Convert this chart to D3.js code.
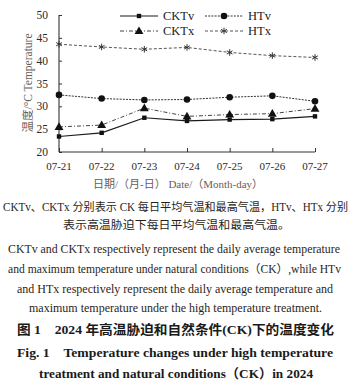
<!DOCTYPE html>
<html><head><meta charset="utf-8">
<script src="https://cdn.jsdelivr.net/npm/d3@7/dist/d3.min.js"></script>
<style>body{margin:0;background:#fff}svg{display:block}</style>
</head><body>
<svg id="c" width="361" height="386"></svg>
<script>
const dates = ["07-21","07-22","07-23","07-24","07-25","07-26","07-27"];
const CKTv = [23.4,24.2,27.5,26.8,27.1,27.2,27.8];
const HTv  = [32.5,31.7,31.4,31.5,32.0,32.3,31.1];
const CKTx = [25.5,25.9,29.6,27.8,28.2,28.4,29.5];
const HTx  = [43.6,43.0,42.5,42.9,41.8,41.1,40.7];
const yTicks = [20,25,30,35,40,45,50];
const seriesNames = ["CKTv","HTv","CKTx","HTx"];
const captions = [
 "CKTv、CKTx 分别表示 CK 每日平均气温和最高气温，HTv、HTx 分别",
 "表示高温胁迫下每日平均气温和最高气温。",
 "CKTv and CKTx respectively represent the daily average temperature",
 "and maximum temperature under natural conditions（CK）,while HTv",
 "and HTx respectively represent the daily average temperature and",
 "maximum temperature under the high temperature treatment.",
 "图 1　2024 年高温胁迫和自然条件(CK)下的温度变化",
 "Fig. 1　Temperature changes under high temperature",
 "treatment and natural conditions（CK）in 2024"
];

const svg = d3.select("#c");
const serif = "'Liberation Serif','Noto Sans CJK SC',serif";
const axisCol = "#333";
const x = d3.scalePoint().domain(dates).range([59,315]);
const y = d3.scaleLinear().domain([20,50]).range([152,15]);

// axes
const gy = svg.append("g").attr("transform","translate(59,0)")
  .call(d3.axisRight(y).tickValues(yTicks).tickSize(3).tickFormat(""));
const gx = svg.append("g").attr("transform","translate(0,152)")
  .call(d3.axisTop(x).tickSize(4).tickFormat(""));
[gy,gx].forEach(g=>{g.select(".domain").attr("stroke",axisCol).attr("stroke-width",1.1);
  g.selectAll(".tick line").attr("stroke",axisCol);});
gx.select(".domain").attr("d","M59,0H315");
gy.select(".domain").attr("d","M0,15V152");

svg.append("g").selectAll("text").data(yTicks).join("text")
  .attr("x",48).attr("y",d=>y(d)).attr("dy","0.35em").attr("text-anchor","end")
  .attr("font-family",serif).attr("font-size",11.5).attr("fill","#2a2a2a").text(d=>d);
svg.append("g").selectAll("text").data(dates).join("text")
  .attr("x",d=>x(d)).attr("y",170).attr("text-anchor","middle")
  .attr("font-family",serif).attr("font-size",11).attr("fill","#2a2a2a").text(d=>d);

svg.append("text").attr("transform","translate(32,83) rotate(-90)").attr("text-anchor","middle")
  .attr("font-family",serif).attr("font-size",11.5).attr("fill","#6a5d58")
  .text("温度/°C  Temperature");
svg.append("text").attr("x",178).attr("y",188).attr("text-anchor","middle")
  .attr("font-family",serif).attr("font-size",11).attr("fill","#6a5d58")
  .attr("textLength",170).attr("lengthAdjust","spacing")
  .text("日期/（月-日）  Date/（Month-day）");

// series
const styles = {
  CKTv:{data:CKTv,dash:null,col:"#1a1a1a",w:1.2,marker:"square"},
  HTv:{data:HTv,dash:"2,1.2",col:"#333",w:1,marker:"circle"},
  CKTx:{data:CKTx,dash:"4,2,1,2",col:"#444",w:1,marker:"triangle"},
  HTx:{data:HTx,dash:"3,2",col:"#555",w:1,marker:"asterisk"}
};
const line = d3.line().x((d,i)=>x(dates[i])).y(d=>y(d));
function drawMarker(g,type,cx,cy,col){
  if(type==="square") g.append("rect").attr("x",cx-2.2).attr("y",cy-2.2).attr("width",4.4).attr("height",4.4).attr("fill","#111");
  else if(type==="circle") g.append("circle").attr("cx",cx).attr("cy",cy).attr("r",3.3).attr("fill","#111");
  else if(type==="triangle") g.append("path").attr("d",d3.symbol(d3.symbolTriangle,34)()).attr("transform",`translate(${cx},${cy+0.5})`).attr("fill","#111");
  else if(type==="asterisk") g.append("path").attr("d",d3.symbol(d3.symbolAsterisk,30)()).attr("transform",`translate(${cx},${cy})`).attr("stroke","#333").attr("stroke-width",1).attr("fill","none");
}
seriesNames.forEach(n=>{
  const s=styles[n];
  const g=svg.append("g");
  g.append("path").datum(s.data).attr("d",line).attr("fill","none").attr("stroke",s.col)
   .attr("stroke-width",s.w).attr("stroke-dasharray",s.dash);
  s.data.forEach((v,i)=>drawMarker(g,s.marker,x(dates[i]),y(v),s.col));
});

// legend
const legPos = {CKTv:[120,16],HTv:[205,16],CKTx:[120,31],HTx:[205,31]};
seriesNames.forEach(n=>{
  const s=styles[n],[lx,ly]=legPos[n];
  const g=svg.append("g");
  g.append("line").attr("x1",lx).attr("x2",lx+38).attr("y1",ly).attr("y2",ly)
    .attr("stroke",s.col).attr("stroke-width",s.w).attr("stroke-dasharray",s.dash);
  drawMarker(g,s.marker,lx+19,ly,s.col);
  g.append("text").attr("x",lx+43).attr("y",ly).attr("dy","0.35em")
    .attr("font-family",serif).attr("font-size",12.5).attr("fill","#222").text(n);
});

// captions
const capLayout = [
 {y:207,x1:3,x2:348,fs:11.5,b:false},
 {y:225,x1:63,x2:290,fs:11.5,b:false},
 {y:249,x1:8,x2:340,fs:11.5,b:false},
 {y:269,x1:8,x2:341,fs:11.5,b:false},
 {y:289,x1:17,x2:333,fs:11.5,b:false},
 {y:308,x1:29,x2:322,fs:11.5,b:false},
 {y:329,x1:17,x2:334,fs:13,b:true},
 {y:352,x1:17,x2:333,fs:13,b:true},
 {y:373,x1:39,x2:313,fs:13,b:true}
];
captions.forEach((t,i)=>{
  const L=capLayout[i];
  svg.append("text").attr("x",L.x1).attr("y",L.y).attr("dy","0.35em")
    .attr("font-family",serif).attr("font-size",L.fs).attr("font-weight",L.b?"bold":"normal")
    .attr("fill",L.b?"#1a1a1a":"#2b1e18")
    .attr("textLength",L.x2-L.x1).attr("lengthAdjust","spacingAndGlyphs").text(t);
});
</script>
</body></html>
